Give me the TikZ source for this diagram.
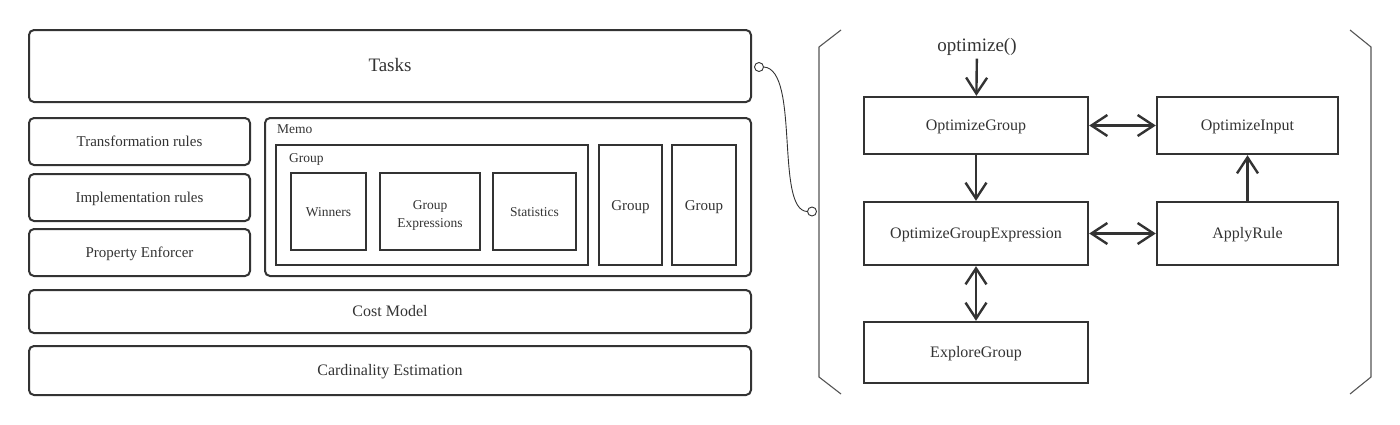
\documentclass[tikz,border=0pt]{standalone}
\usepackage{fontspec}
\setmainfont{Liberation Serif}
\usepackage{tikz}
\usetikzlibrary{arrows.meta, positioning, calc}

\definecolor{ink}{HTML}{333333}
\definecolor{rim}{HTML}{555555}

\begin{document}
\begin{tikzpicture}[x=1pt, y=-1pt, >={Straight Barb[length=16pt,width=21pt]},
    layer/.style={draw=ink, line width=2pt, rounded corners=5pt, text=ink, text height=1em, text depth=0pt, font=\fontsize{16}{19}\selectfont},
    rule/.style={layer, minimum width=221pt, minimum height=47pt, font=\fontsize{15}{18}\selectfont},
    part/.style={draw=ink, line width=2pt, text=ink, text height=1em, text depth=0pt, align=center, font=\fontsize{13.5}{18}\selectfont},
    tag/.style={anchor=base west, inner sep=0pt, text=ink, font=\fontsize{13.5}{15}\selectfont},
    task/.style={draw=ink, line width=2.4pt, text=ink, text height=1em, text depth=0pt, minimum height=57pt, font=\fontsize{16}{19}\selectfont},
    flow/.style={draw=ink, line width=2.4pt},
    plug/.style={circle, draw=ink, fill=white, line width=0.9pt, minimum size=9pt, inner sep=0pt}]

    \useasboundingbox (0,0) rectangle (1400,424);

    % --- Left: optimizer layers ---
    \node[layer, minimum width=722pt, minimum height=72pt, font=\fontsize{19}{22}\selectfont] (tasks) at (390,66) {Tasks};

    \node[rule] (trans) at (139.5,141.5) {Transformation rules};
    \node[rule] (impl) at (139.5,197.5) {Implementation rules};
    \node[rule] (enforce) at (139.5,252.5) {Property Enforcer};

    % Memo with its groups
    \node[layer, minimum width=486pt, minimum height=158pt] (memo) at (508,197) {};
    \node[tag] (memolbl) at (277,133) {Memo};
    \node[part, minimum width=312pt, minimum height=120pt] (grp) at (432,205) {};
    \node[tag] (grplbl) at (289,162) {Group};
    \node[part, minimum width=75pt, minimum height=77pt] (win) at (328.5,211.5) {Winners};
    \node[part, minimum width=100pt, minimum height=77pt, text height=34pt, text depth=3pt] (gexpr) at (430,211.5) {Group\\Expressions};
    \node[part, minimum width=83pt, minimum height=77pt] (stats) at (534.5,211.5) {Statistics};
    \node[part, minimum width=63pt, minimum height=120pt, font=\fontsize{15}{18}\selectfont] (grpb) at (630.5,205) {Group};
    \node[part, minimum width=64pt, minimum height=120pt, font=\fontsize{15}{18}\selectfont] (grpc) at (704,205) {Group};

    \node[layer, minimum width=722pt, minimum height=43pt] (cost) at (390,311.5) {Cost Model};
    \node[layer, minimum width=722pt, minimum height=49pt] (card) at (390,370.5) {Cardinality Estimation};

    % --- Link from Tasks to the task flow ---
    \node[plug] (plugA) at (759,67) {};
    \node[plug] (plugB) at (812,211.5) {};
    \draw[ink, line width=0.9pt] (plugA.east) .. controls (800,70) and (775,210) .. (plugB.west);

    % --- Right: task flow inside brackets ---
    \draw[rim, line width=1.1pt] (841,30) -- (819,47) -- (819,377) -- (841,394);
    \draw[rim, line width=1.1pt] (1350,30) -- (1371,47) -- (1371,377) -- (1350,394);

    \node[anchor=base, text=ink, font=\fontsize{19}{22}\selectfont] (call) at (977,51) {optimize()};
    \node[task, minimum width=224pt] (og) at (976,125.5) {OptimizeGroup};
    \node[task, minimum width=181pt] (oi) at (1247.5,125.5) {OptimizeInput};
    \node[task, minimum width=224pt, minimum height=63pt] (oge) at (976,233.5) {OptimizeGroupExpression};
    \node[task, minimum width=181pt, minimum height=63pt] (ar) at (1247.5,233.5) {ApplyRule};
    \node[task, minimum width=224pt, minimum height=61pt] (eg) at (976,352.5) {ExploreGroup};

    \draw[flow, ->] (call) -- (og);
    \draw[flow, <->] (og) -- (oi);
    \draw[flow, ->] (og) -- (oge);
    \draw[flow, <->] (oge) -- (ar);
    \draw[flow, ->] (ar) -- (oi);
    \draw[flow, <->] (oge) -- (eg);

\end{tikzpicture}
\end{document}
